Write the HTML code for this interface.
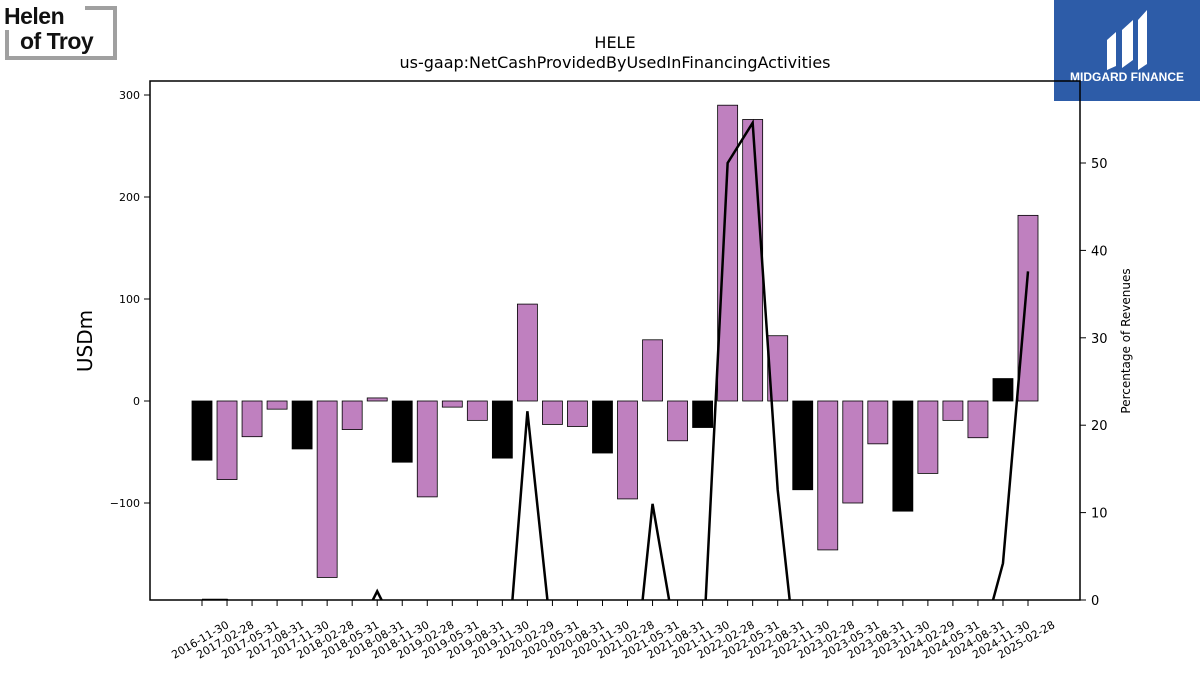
<!DOCTYPE html>
<html><head><meta charset="utf-8"><style>
html,body{margin:0;background:#fff;font-family:"Liberation Sans","DejaVu Sans",sans-serif;overflow:hidden;width:1200px;height:675px}
svg{display:block}
svg text{font-family:"DejaVu Sans","Liberation Sans",sans-serif}
</style></head><body>
<svg id="c" width="1200" height="675" xmlns="http://www.w3.org/2000/svg">
<g>
<path d="M7 30 V58 H115 V8 H85" fill="none" stroke="#a0a0a0" stroke-width="4"/>
<text x="4" y="24" font-size="23" font-weight="bold" fill="#111" style="font-family:'Liberation Sans';letter-spacing:-0.5px">Helen</text>
<text x="20" y="49" font-size="23" font-weight="bold" fill="#111" style="font-family:'Liberation Sans';letter-spacing:-0.5px">of Troy</text>
</g>
<g>
<rect x="1054" y="0" width="146" height="101" fill="#2d5ca8"/>
<path d="M1107 40 L1116 32 V66 L1107 70 Z M1122 30 L1133 20 V60 L1122 68 Z M1138 20 L1147 10 V64 L1138 70 Z" fill="#fff"/>
<text x="1127" y="81" font-size="12" font-weight="bold" fill="#fff" text-anchor="middle" style="font-family:'Liberation Sans'">MIDGARD FINANCE</text>
</g>
<text x="615" y="48" font-size="16" text-anchor="middle">HELE</text>
<text x="615" y="68" font-size="16" text-anchor="middle">us-gaap:NetCashProvidedByUsedInFinancingActivities</text>
<text transform="translate(92,341) rotate(-90)" font-size="20" text-anchor="middle">USDm</text>
<text transform="translate(1130,341) rotate(-90)" font-size="12" text-anchor="middle">Percentage of Revenues</text>
<defs><clipPath id="pc"><rect x="150" y="81" width="930" height="519"/></clipPath></defs>
<g id="bars" clip-path="url(#pc)"></g>
<g id="line" clip-path="url(#pc)"></g>
<g id="axes"></g>
<rect x="150" y="81" width="930" height="519" fill="none" stroke="#000" stroke-width="1.5"/>
</svg>
<script>
const dates=["2016-11-30","2017-02-28","2017-05-31","2017-08-31","2017-11-30","2018-02-28","2018-05-31","2018-08-31","2018-11-30","2019-02-28","2019-05-31","2019-08-31","2019-11-30","2020-02-29","2020-05-31","2020-08-31","2020-11-30","2021-02-28","2021-05-31","2021-08-31","2021-11-30","2022-02-28","2022-05-31","2022-08-31","2022-11-30","2023-02-28","2023-05-31","2023-08-31","2023-11-30","2024-02-29","2024-05-31","2024-08-31","2024-11-30","2025-02-28"];
const values=[-58,-77,-35,-8,-47,-173,-28,3,-60,-94,-6,-19,-56,95,-23,-25,-51,-96,60,-39,-26,290,276,64,-87,-146,-100,-42,-108,-71,-19,-36,22,182];
const pct=[0,0,-3,-1,-5,-10,-4.7,1,-4.7,-8,-1,-3,-14.5,21.6,-5.4,-4,-9,-16.7,11,-5.6,-7,50,54.6,12.6,-13.7,-20,-15,-6,-18,-11,-3,-6.4,4.2,37.6];
const yTicks=[-100,0,100,200,300];
const y2Ticks=[0,10,20,30,40,50];
const blackIdx=[0,4,8,12,16,20,24,28,32];
const NS="http://www.w3.org/2000/svg";
const x=i=>202+i*(826/33);
const y=v=>401-v*1.02;
const y2=v=>600-v*8.74;
function mk(t,a,p){const e=document.createElementNS(NS,t);for(const k in a)e.setAttribute(k,a[k]);p.appendChild(e);return e;}
const B=document.getElementById('bars'),L=document.getElementById('line'),A=document.getElementById('axes');
values.forEach((v,i)=>{
 const r=mk('rect',{x:x(i)-10,y:Math.min(y(v),y(0)),width:20,height:Math.abs(y(v)-y(0)),fill:blackIdx.includes(i)?'#000':'#bf80bf',stroke:'#000','stroke-width':0.8},B);
 
 
});
const pl=mk('polyline',{points:pct.map((v,i)=>x(i)+','+y2(v)).join(' '),fill:'none',stroke:'#000','stroke-width':2.5},L);


yTicks.forEach(t=>{
 mk('line',{x1:144,x2:150,y1:y(t),y2:y(t),stroke:'#000'},A);
 const tx=mk('text',{x:140,y:y(t)+4,'font-size':11,'text-anchor':'end'},A);tx.textContent=t<0?'\u2212'+(-t):t;
 
 
});
y2Ticks.forEach(t=>{
 mk('line',{x1:1080,x2:1086,y1:y2(t),y2:y2(t),stroke:'#000'},A);
 const tx=mk('text',{x:1091,y:y2(t)+5,'font-size':13},A);tx.textContent=t;
 
 
});
dates.forEach((d,i)=>{
 mk('line',{x1:x(i),x2:x(i),y1:600,y2:606,stroke:'#000'},A);
 const tx=mk('text',{transform:`translate(${x(i)},643) rotate(-30)`,'font-size':11,'text-anchor':'middle'},A);tx.textContent=d;
 
 
});
</script>
</body></html>
